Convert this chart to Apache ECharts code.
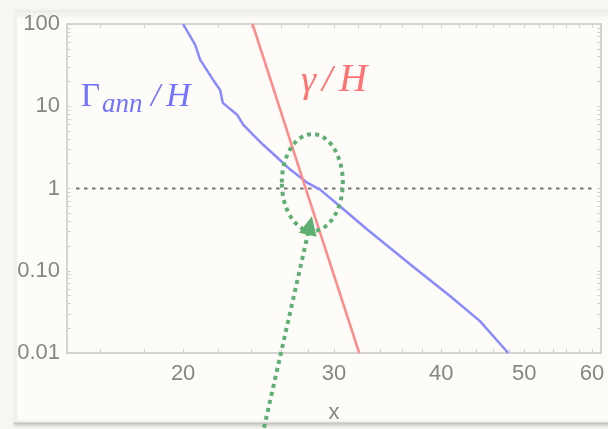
<!DOCTYPE html>
<html>
<head>
<meta charset="utf-8">
<script src="https://cdn.jsdelivr.net/npm/echarts@6/dist/echarts.min.js"></script>
<style>
  html, body { margin: 0; padding: 0; background: #f8f6f1; }
  #chart { width: 608px; height: 429px; }
</style>
</head>
<body>
<div id="chart"></div>
<script>
// Annihilation rate over Hubble rate, Γ_ann/H, versus x
const annX = [20, 20.66, 20.94, 21.68, 22.09, 22.25, 23.12, 23.5, 24.14, 24.8, 25.75, 26.67, 27.9, 28.9, 30.5, 32.8, 36.8, 41.0, 44.4, 47.9];
const annY = [100, 55.6, 36.6, 20.9, 15.8, 11.0, 7.9, 5.97, 4.5, 3.4, 2.38, 1.70, 1.18, 0.97, 0.605, 0.318, 0.12, 0.049, 0.0244, 0.01];

// Scattering rate over Hubble rate, γ/H (a power law: straight on log-log)
const gammaX = [24.1, 27.8, 32.1];
const gammaY = [100, 1, 0.01];

// Reference level rate = H
const unityX = [15, 60];
const unityY = [1, 1];

// Axis ticks
const xTicks = [20, 30, 40, 50, 60];
const xMinorTicks = [16, 18, 20, 22, 24, 26, 28, 30, 32, 34, 36, 38, 40, 42, 44, 46, 48, 50, 52, 54, 56, 58, 60];
const yTicks = [0.01, 0.1, 1, 10, 100];
const yTickLabels = ['0.01', '0.10', '1', '10', '100'];
const yMinorTicks = [0.02, 0.03, 0.04, 0.05, 0.06, 0.07, 0.08, 0.09,
                     0.2, 0.3, 0.4, 0.5, 0.6, 0.7, 0.8, 0.9,
                     2, 3, 4, 5, 6, 7, 8, 9,
                     20, 30, 40, 50, 60, 70, 80, 90];

// Highlighted crossing region and pointer
const crossingCenter = [28.3, 1.18];
const arrowTip = [28.27, 0.46];

const zip = (xs, ys) => xs.map((x, i) => [x, ys[i]]);

const chart = echarts.init(document.getElementById('chart'), null, { renderer: 'canvas' });

const axisGrey = '#c6c6c6';
const labelStyle = { color: '#868686', fontSize: 22, fontFamily: '"Liberation Sans", Arial, sans-serif' };

function yLabel(v) {
  for (let i = 0; i < yTicks.length; i++) {
    if (Math.abs(Math.log10(v) - Math.log10(yTicks[i])) < 1e-6) return yTickLabels[i];
  }
  return '';
}

const xBase = {
  type: 'log', logBase: 10, min: 14.64, max: 61.46,
  axisLine: { show: true, lineStyle: { color: axisGrey, width: 1.5 } },
  axisTick: { show: true, inside: true, length: 4, customValues: xMinorTicks, lineStyle: { color: '#d2d2d2', width: 1 } },
  splitLine: { show: false },
  minorTick: { show: false }
};
const yBase = {
  type: 'log', logBase: 10, min: 0.01, max: 100,
  axisLine: { show: true, lineStyle: { color: axisGrey, width: 1.5 } },
  axisTick: { show: true, inside: true, length: 4, customValues: yMinorTicks.concat(yTicks), lineStyle: { color: '#d2d2d2', width: 1 } },
  splitLine: { show: false },
  minorTick: { show: false }
};

chart.setOption({
  animation: false,
  backgroundColor: 'transparent',
  grid: { left: 67, right: 7, top: 24, bottom: 75, containLabel: false },
  xAxis: [
    Object.assign({}, xBase, {
      position: 'bottom',
      name: 'x', nameLocation: 'middle', nameGap: 49,
      nameTextStyle: labelStyle,
      axisLabel: Object.assign({ customValues: xTicks, margin: 10, formatter: v => String(Math.round(v)) }, labelStyle)
    }),
    Object.assign({}, xBase, { position: 'top', axisLabel: { show: false } })
  ],
  yAxis: [
    Object.assign({}, yBase, {
      position: 'left',
      axisLabel: Object.assign({ customValues: yTicks, margin: 7, formatter: yLabel }, labelStyle)
    }),
    Object.assign({}, yBase, { position: 'right', axisLabel: { show: false } })
  ],
  series: [
    {
      name: 'unity', type: 'line', silent: true, symbol: 'none',
      data: zip(unityX, unityY),
      lineStyle: { color: '#747474', width: 2, type: [3.5, 4.5] }, z: 2
    },
    {
      name: 'Γann/H', type: 'line', silent: true, symbol: 'none',
      data: zip(annX, annY),
      lineStyle: { color: '#8a8aff', width: 2.5 }, z: 3
    },
    {
      name: 'γ/H', type: 'line', silent: true, symbol: 'none',
      data: zip(gammaX, gammaY),
      lineStyle: { color: '#ff8c8c', width: 2.5 }, z: 4
    }
  ]
});

// Annotations placed relative to the data coordinates
const c = chart.convertToPixel({ gridIndex: 0 }, crossingCenter);
const tip = chart.convertToPixel({ gridIndex: 0 }, arrowTip);
const dir = [0.221, -0.975];
const tail = [tip[0] - dir[0] * 217, tip[1] - dir[1] * 217];
const headLen = 19, headHalf = 9;
const base = [tip[0] - dir[0] * headLen, tip[1] - dir[1] * headLen];
const perp = [-dir[1], dir[0]];
const green = '#5daf72';
const blueTxt = '#7272ff';
const redTxt = '#ff7272';
const serif = '"Liberation Serif", "Times New Roman", serif';

function txt(s, x, y, font, fill) {
  return {
    type: 'text', z: 100, silent: true, x: x, y: y,
    style: { text: s, font: font, fill: fill, verticalAlign: 'middle', align: 'left' }
  };
}

chart.setOption({
  graphic: [
    {
      type: 'rect', z: -10, silent: true,
      shape: { x: 13, y: 12, width: 640, height: 410, r: 3 },
      style: { fill: '#fefcf8', stroke: '#efede8', lineWidth: 1, shadowBlur: 5, shadowOffsetY: 2, shadowColor: 'rgba(0,0,0,0.28)' }
    },
    // panel edge strip that trims the tick labels at the left
    {
      type: 'rect', z: 200, silent: true,
      shape: { x: 0, y: 0, width: 13, height: 429 },
      style: { fill: '#f8f6f1' }
    },
    {
      type: 'rect', z: 200, silent: true,
      shape: { x: 13, y: 12, width: 4, height: 410 },
      style: { fill: '#f3f1ec' }
    },
    {
      type: 'ellipse', z: 100, silent: true,
      shape: { cx: c[0], cy: c[1], rx: 30.5, ry: 48.5 },
      style: { fill: null, stroke: green, lineWidth: 4, lineDash: [4, 4.2] }
    },
    {
      type: 'line', z: 100, silent: true,
      shape: { x1: tail[0], y1: tail[1], x2: base[0] + dir[0] * 2, y2: base[1] + dir[1] * 2 },
      style: { stroke: green, lineWidth: 4, lineDash: [4, 4.2] }
    },
    {
      type: 'polygon', z: 101, silent: true,
      shape: { points: [
        tip,
        [base[0] + perp[0] * headHalf, base[1] + perp[1] * headHalf],
        [base[0] - perp[0] * headHalf, base[1] - perp[1] * headHalf]
      ] },
      style: { fill: green }
    },
    txt('Γ', 81, 97, 'normal 33px ' + serif, blueTxt),
    txt('ann', 102, 105, 'italic 27px ' + serif, blueTxt),
    txt('/', 151, 97, 'italic 33px ' + serif, blueTxt),
    txt('H', 166, 97, 'italic 34px ' + serif, blueTxt),
    txt('γ', 301, 82, 'italic 38px ' + serif, redTxt),
    txt('/', 322, 81, 'italic 38px ' + serif, redTxt),
    txt('H', 339, 81, 'italic 39px ' + serif, redTxt)
  ]
});
</script>
</body>
</html>
